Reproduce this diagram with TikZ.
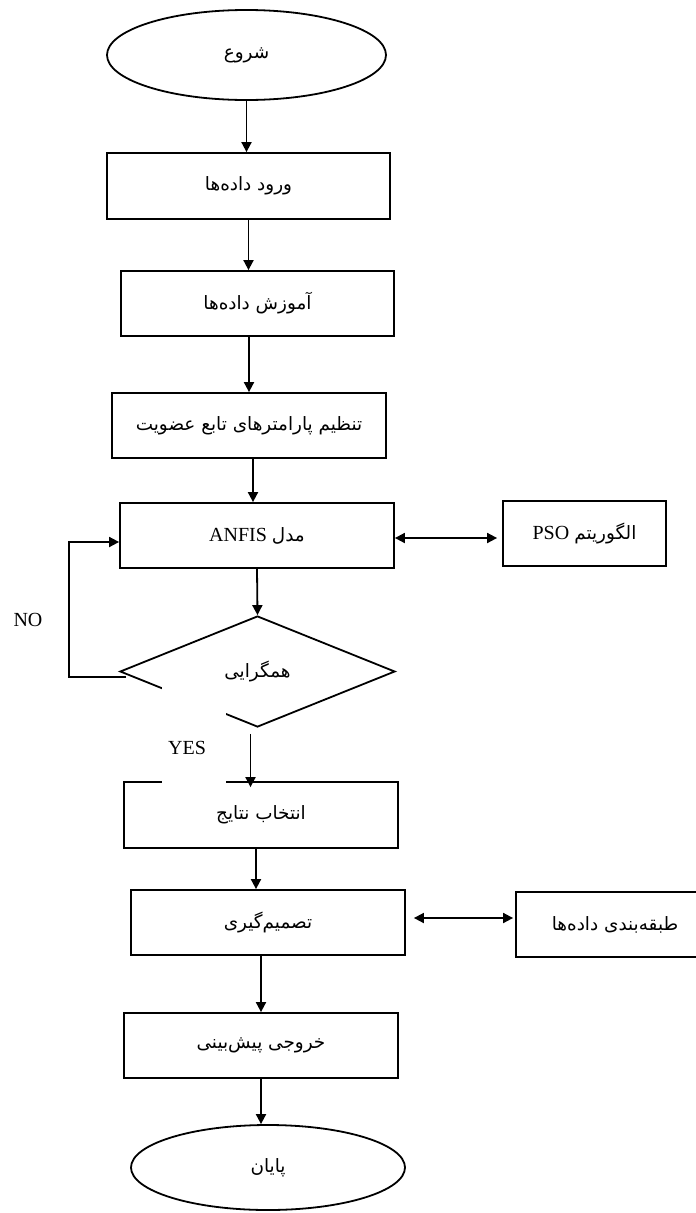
\documentclass[tikz,border=0pt]{standalone}
\usepackage{fontspec}
\setmainfont{Liberation Serif}
\newfontfamily\fa[Script=Arabic,Scale=0.92]{DejaVu Sans}
\TeXXeTstate=1
\usetikzlibrary{arrows.meta,shapes.geometric}

\begin{document}
\begin{tikzpicture}[x=1pt, y=-1pt, line width=1.8pt,
  every node/.style={font=\fontsize{20}{24}\selectfont},
  box/.style={draw, minimum height=65pt, inner sep=0pt},
  oval/.style={draw, ellipse, inner sep=0pt},
  flow/.style={-{Triangle[length=10pt,width=10pt]}},
  both/.style={{Triangle[length=10pt,width=10pt]}-{Triangle[length=10pt,width=10pt]}}]
\useasboundingbox (0,0) rectangle (696,1213);
\clip (0,0) rectangle (696,1213);
% main column
\node[oval, minimum width=279pt, minimum height=90pt] (start) at (246.5,55) {\fa\beginR شروع\endR};
\node[box, minimum width=283pt, minimum height=66pt] (input) at (248.5,186) {\fa\beginR ورود داده‌ها\endR};
\node[box, minimum width=273pt] (train) at (257.5,303.5) {\fa\beginR آموزش داده‌ها\endR};
\node[box, minimum width=274pt] (tune) at (249,425.5) {\fa\beginR تنظیم پارامترهای تابع عضویت\endR};
\node[box, minimum width=274pt] (anfis) at (257,535.5) {\beginR{\fa مدل} \beginL ANFIS\endL\endR};
\node[box, minimum width=163pt] (pso) at (584.5,533.5) {\beginR{\fa الگوریتم} \beginL PSO\endL\endR};
\node[draw, diamond, minimum width=275pt, minimum height=111pt, inner sep=0pt] (conv) at (257.5,671.5) {\fa\beginR همگرایی\endR};
\node[box, minimum width=274pt, minimum height=66pt] (select) at (261,815) {\fa\beginR انتخاب نتایج\endR};
\node[box, minimum width=274pt] (decide) at (268,922.5) {\fa\beginR تصمیم‌گیری\endR};
\node[box, minimum width=198pt] (classify) at (615,924.5) {\fa\beginR طبقه‌بندی داده‌ها\endR};
\node[box, minimum width=274pt] (output) at (261,1045.5) {\fa\beginR خروجی پیش‌بینی\endR};
\node[oval, minimum width=274pt, minimum height=85pt] (stop) at (268,1167.5) {\fa\beginR پایان\endR};
% labels
\node (no) at (28,620) {NO};
\node[fill=white, minimum width=64pt, minimum height=99pt, inner sep=0pt,
  label={[xshift=-7pt, yshift=-13pt]center:YES}] (yes) at (194,735) {};
% connectors
\draw[flow] (start.south) -- (start.south |- input.north);
\draw[flow] (input.south) -- (input.south |- train.north);
\draw[flow] (tune.north |- train.south) -- (tune.north);
\draw[flow] ([xshift=4pt]tune.south) -- ([xshift=4pt]tune.south |- anfis.north);
\draw[flow] (anfis.south) -- (conv.north);
\draw[flow] ([xshift=-7pt, yshift=-6pt]conv.south) -- ([xshift=-7pt, yshift=-6pt]conv.south |- select.north);
\draw[flow] ([xshift=-5pt]select.south) -- ([xshift=-5pt]select.south |- decide.north);
\draw[flow] (output.north |- decide.south) -- (output.north);
\draw[flow] (output.south) -- (output.south |- stop.north);
\draw[both, shorten >=5pt] ([yshift=-2.5pt]anfis.east) -- ([yshift=-2.5pt]anfis.east -| pso.west);
\draw[both, shorten <=8pt, shorten >=2pt] ([yshift=4.5pt]decide.east) -- ([yshift=4.5pt]decide.east -| classify.west);
\draw[flow] ([xshift=7pt, yshift=-5.5pt]conv.west) -- ++(-57,0) |- ([yshift=-6.5pt]anfis.west);
\end{tikzpicture}
\end{document}
